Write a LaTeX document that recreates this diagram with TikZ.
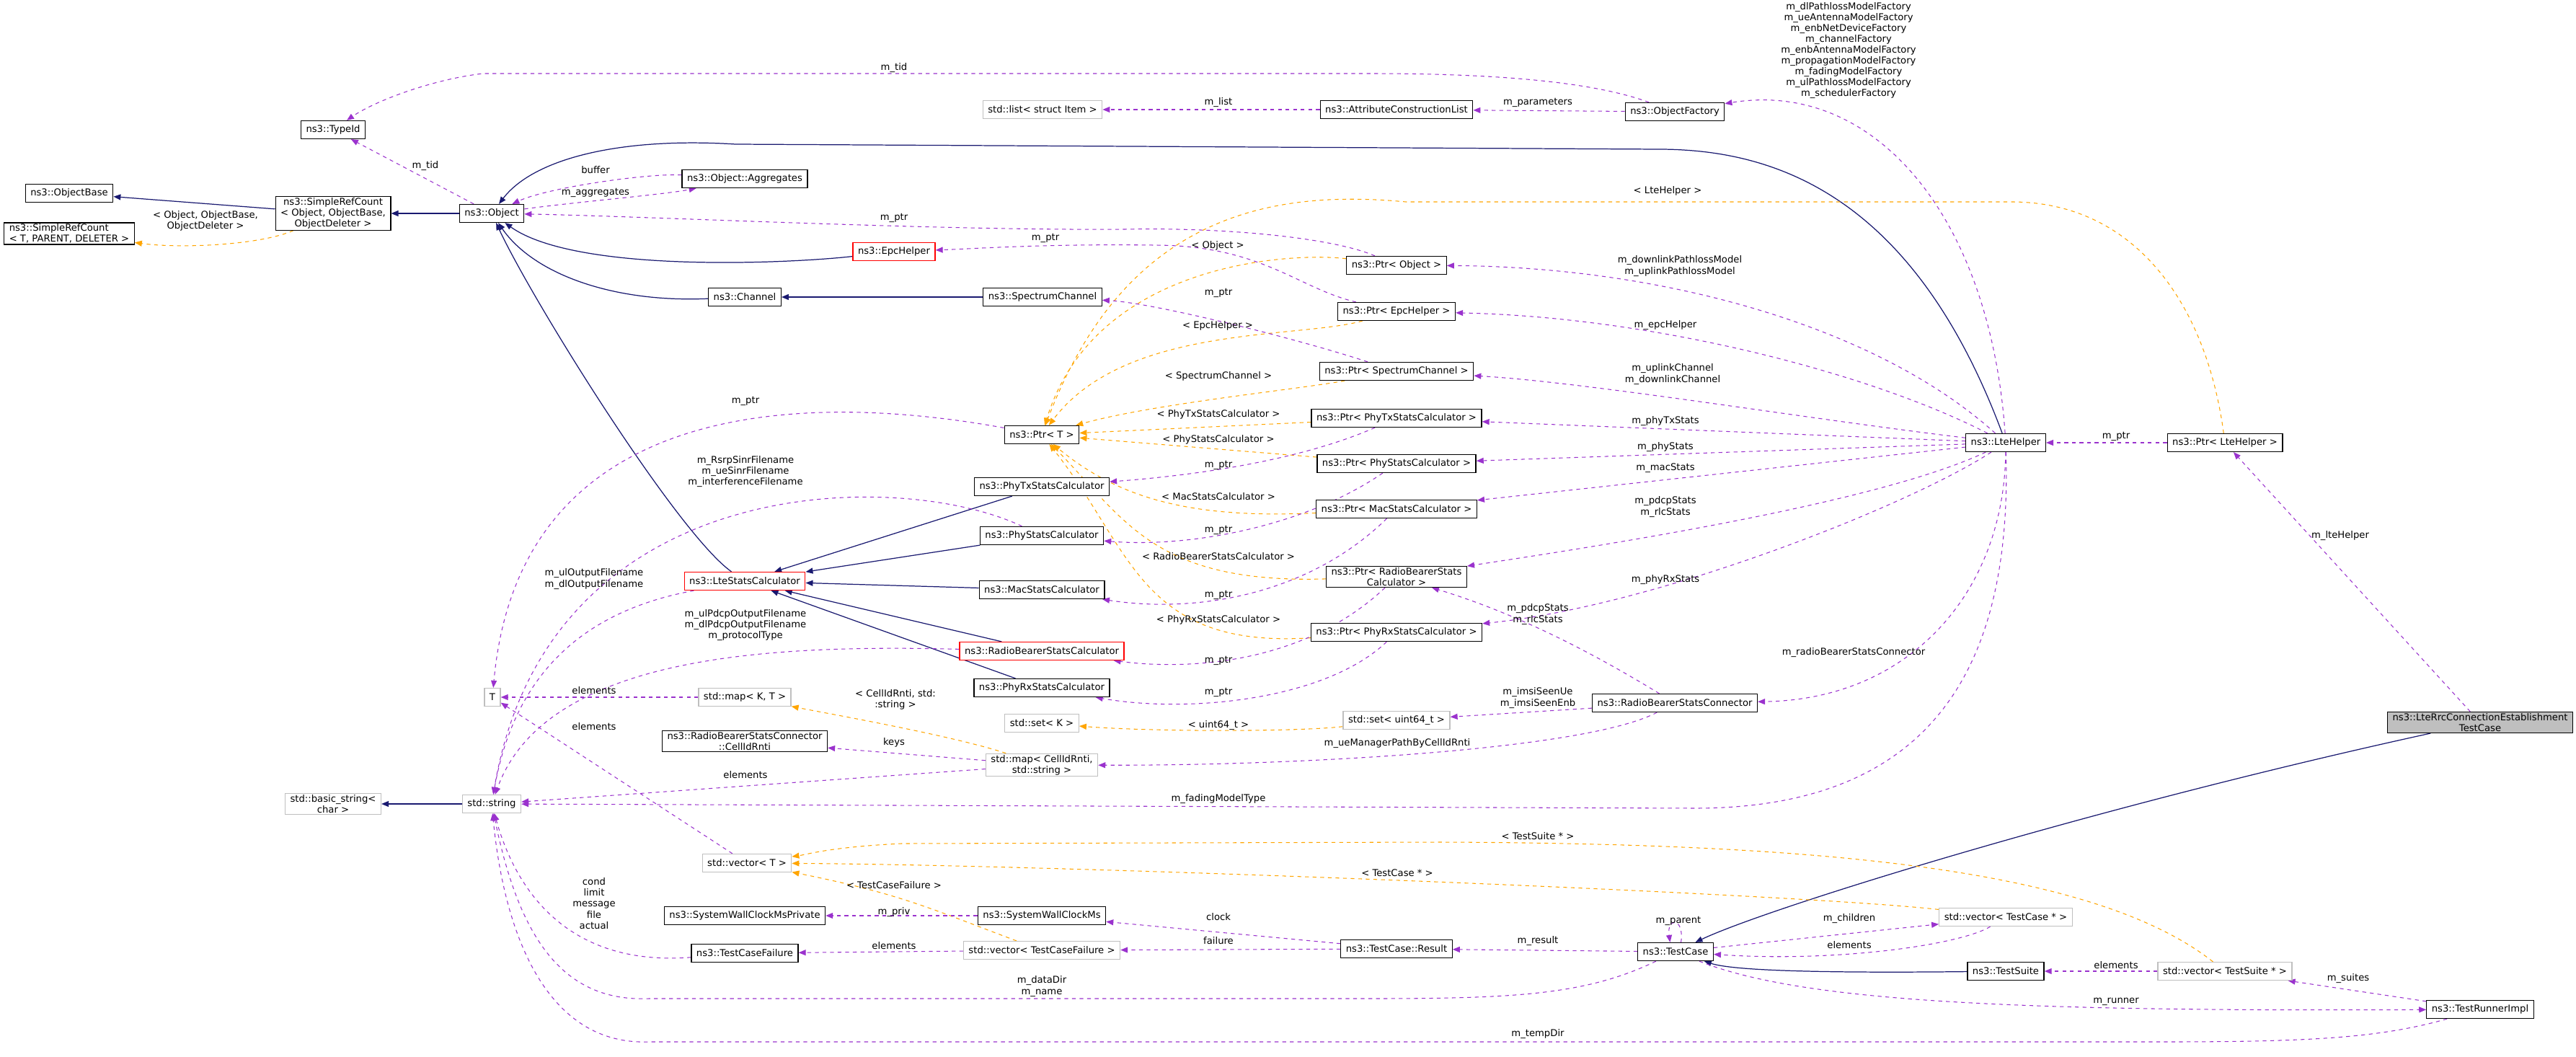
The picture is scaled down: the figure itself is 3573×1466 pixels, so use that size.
\documentclass[tikz,border=0pt]{standalone}
\usepackage{fontspec}
\setmainfont{DejaVu Sans}
\usetikzlibrary{arrows.meta}
\definecolor{inhcol}{HTML}{191970}
\definecolor{usecol}{HTML}{9A32CD}
\definecolor{tplcol}{HTML}{FFA500}
\definecolor{extcol}{HTML}{BFBFBF}
\pgfdeclarelayer{background}
\pgfsetlayers{background,main}
\tikzset{
  cls/.style={draw=black, fill=white, line width=0.7pt, font=\fontsize{7.5}{8.6}\selectfont,
    inner xsep=4pt, inner ysep=1pt, minimum height=0.5cm, align=center},
  extcls/.style={cls, draw=extcol},
  redcls/.style={cls, draw=red},
  curcls/.style={cls, fill=extcol},
  lbl/.style={font=\fontsize{7.5}{8.6}\selectfont, inner sep=0pt, align=center},
  tip/.style={-{Triangle[length=0.2cm,width=0.16cm]}},
  inh/.style={tip, draw=inhcol, line width=0.7pt},
  use/.style={tip, draw=usecol, dashed, line width=0.6pt},
  tpl/.style={tip, draw=tplcol, dashed, line width=0.6pt},
}
\begin{document}
\begin{tikzpicture}[x=0.02cm, y=-0.02cm]
\useasboundingbox (0,0) rectangle (3573,1466);
% classes
\node[cls] (typeid) at (462,180) {ns3::TypeId};
\node[cls] (objbase) at (96,268) {ns3::ObjectBase};
\node[cls, align=left] (srcT) at (96,324) {ns3::SimpleRefCount\\< T, PARENT, DELETER >};
\node[cls] (srcObj) at (462,296) {ns3::SimpleRefCount\\< Object, ObjectBase,\\ObjectDeleter >};
\node[cls] (object) at (682,296) {ns3::Object};
\node[cls] (aggr) at (1033,248) {ns3::Object::Aggregates};
\node[redcls] (epc) at (1240,349) {ns3::EpcHelper};
\node[cls] (channel) at (1033,412) {ns3::Channel};
\node[cls] (spch) at (1446,412) {ns3::SpectrumChannel};
\node[extcls] (list) at (1446,152) {std::list< struct Item >};
\node[cls] (acl) at (1937,152) {ns3::AttributeConstructionList};
\node[cls] (ofac) at (2323,155) {ns3::ObjectFactory};
\node[cls] (ptrobj) at (1937,368) {ns3::Ptr< Object >};
\node[cls] (ptrepc) at (1937,432) {ns3::Ptr< EpcHelper >};
\node[cls] (ptrspch) at (1937,515) {ns3::Ptr< SpectrumChannel >};
\node[cls] (ptrT) at (1445,603) {ns3::Ptr< T >};
\node[cls] (ptrphytx) at (1937,580) {ns3::Ptr< PhyTxStatsCalculator >};
\node[cls] (ptrphy) at (1937,643) {ns3::Ptr< PhyStatsCalculator >};
\node[cls] (ptrmac) at (1937,706) {ns3::Ptr< MacStatsCalculator >};
\node[cls] (ptrrb) at (1937,800) {ns3::Ptr< RadioBearerStats\\Calculator >};
\node[cls] (ptrphyrx) at (1937,877) {ns3::Ptr< PhyRxStatsCalculator >};
\node[cls] (phytx) at (1445,675) {ns3::PhyTxStatsCalculator};
\node[cls] (phy) at (1445,743) {ns3::PhyStatsCalculator};
\node[cls] (mac) at (1445,818) {ns3::MacStatsCalculator};
\node[redcls] (rb) at (1445,903) {ns3::RadioBearerStatsCalculator};
\node[cls] (phyrx) at (1445,954) {ns3::PhyRxStatsCalculator};
\node[redcls] (ltestats) at (1033,806) {ns3::LteStatsCalculator};
\node[extcls] (T) at (683,967) {T};
\node[extcls] (mapKT) at (1033,967) {std::map< K, T >};
\node[cls] (cellid) at (1033,1028) {ns3::RadioBearerStatsConnector\\::CellIdRnti};
\node[extcls] (setK) at (1445,1003) {std::set< K >};
\node[extcls] (setU) at (1937,999) {std::set< uint64\_t >};
\node[extcls] (mapCS) at (1445,1061) {std::map< CellIdRnti,\\std::string >};
\node[cls] (rbsc) at (2323,975) {ns3::RadioBearerStatsConnector};
\node[extcls] (basic) at (462,1115) {std::basic\_string<\\char >};
\node[extcls] (string) at (682,1115) {std::string};
\node[extcls] (vecT) at (1036,1197) {std::vector< T >};
\node[cls] (swcmp) at (1033,1270) {ns3::SystemWallClockMsPrivate};
\node[cls] (tcf) at (1033,1322) {ns3::TestCaseFailure};
\node[cls] (swcm) at (1445,1270) {ns3::SystemWallClockMs};
\node[extcls] (vecTCF) at (1445,1318) {std::vector< TestCaseFailure >};
\node[cls] (result) at (1937,1316) {ns3::TestCase::Result};
\node[cls] (testcase) at (2324,1320) {ns3::TestCase};
\node[extcls] (vecTC) at (2782,1272) {std::vector< TestCase * >};
\node[cls] (suite) at (2782,1347) {ns3::TestSuite};
\node[extcls] (vecTS) at (3086,1347) {std::vector< TestSuite * >};
\node[cls] (runner) at (3440,1400) {ns3::TestRunnerImpl};
\node[cls] (lte) at (2782,614) {ns3::LteHelper};
\node[cls] (ptrlte) at (3086,614) {ns3::Ptr< LteHelper >};
\node[curcls] (rrc) at (3440,1002) {ns3::LteRrcConnectionEstablishment\\TestCase};
\begin{pgfonlayer}{background}
% inheritance
\draw[inh] (srcObj) -- (objbase);
\draw[inh] (object) -- (srcObj);
\draw[inh] (lte) .. controls (2650,260) and (2450,207) .. (2300,207) -- (1020,200) .. controls (860,190) and (740,220) .. (object);
\draw[inh] (epc) .. controls (1100,365) and (800,380) .. (object);
\draw[inh] (channel) .. controls (850,420) and (740,380) .. (object);
\draw[inh] (ltestats) .. controls (940,740) and (740,420) .. (object);
\draw[inh] (spch) -- (channel);
\foreach \c in {phytx,phy,mac,rb,phyrx}
  \draw[inh] (\c) -- (ltestats);
\draw[inh] (rrc) .. controls (2900,1120) and (2450,1260) .. (testcase);
\draw[inh] (suite) .. controls (2500,1350) and (2400,1345) .. (testcase);
\draw[inh] (string) -- (basic);
% templates
\draw[tpl] (srcObj) .. controls (360,340) and (250,345) .. (srcT);
\draw[tpl] (ptrobj) .. controls (1800,350) and (1520,360) .. (ptrT);
\draw[tpl] (ptrepc) .. controls (1800,470) and (1560,450) .. (ptrT);
\draw[tpl] (ptrspch) .. controls (1800,540) and (1600,560) .. (ptrT);
\draw[tpl] (ptrphytx) -- (ptrT);
\draw[tpl] (ptrphy) -- (ptrT);
\draw[tpl] (ptrmac) .. controls (1650,720) and (1550,690) .. (ptrT);
\draw[tpl] (ptrrb) .. controls (1600,810) and (1560,720) .. (ptrT);
\draw[tpl] (ptrphyrx) .. controls (1580,900) and (1570,760) .. (ptrT);
\draw[tpl] (ptrlte) .. controls (3060,420) and (2960,280) .. (2790,280) -- (1950,280) .. controls (1760,262) and (1560,300) .. (ptrT);
\draw[tpl] (mapCS) .. controls (1320,1020) and (1150,990) .. (mapKT);
\draw[tpl] (setU) .. controls (1800,1015) and (1600,1015) .. (setK);
\draw[tpl] (vecTCF) .. controls (1290,1260) and (1250,1240) .. (vecT);
\draw[tpl] (vecTC) .. controls (2500,1240) and (1500,1200) .. (vecT);
\draw[tpl] (vecTS) .. controls (2900,1200) and (2500,1170) .. (2000,1168) -- (1250,1170) .. controls (1150,1175) and (1120,1185) .. (vecT);
% usage
\draw[use] (object) -- (typeid);
\draw[use] (ofac) .. controls (2200,110) and (2050,102) .. (1900,102) -- (670,102) .. controls (600,110) and (520,140) .. (typeid);
\draw[use] (aggr) .. controls (900,240) and (760,260) .. (object);
\draw[use] (object) .. controls (800,280) and (920,270) .. (aggr);
\draw[use] (ptrobj) .. controls (1850,330) and (1700,315) .. (1560,318) .. controls (1300,320) and (900,300) .. (object);
\draw[use] (ptrepc) .. controls (1800,400) and (1750,340) .. (1600,340) .. controls (1450,338) and (1350,345) .. (epc);
\draw[use] (ptrspch) .. controls (1800,470) and (1600,420) .. (spch);
\draw[use] (ptrphytx) .. controls (1800,640) and (1650,660) .. (phytx);
\draw[use] (ptrphy) .. controls (1810,730) and (1650,760) .. (phy);
\draw[use] (ptrmac) .. controls (1810,830) and (1650,850) .. (mac);
\draw[use] (ptrrb) .. controls (1810,920) and (1650,930) .. (rb);
\draw[use] (ptrphyrx) .. controls (1840,970) and (1650,990) .. (phyrx);
\draw[use] (ptrT) .. controls (1100,540) and (720,560) .. (T);
\draw[use] (acl) -- (list);
\draw[use] (ofac) -- (acl);
\draw[use] (lte) .. controls (2760,300) and (2600,110) .. (ofac);
\draw[use] (lte) .. controls (2600,450) and (2300,370) .. (ptrobj);
\draw[use] (lte) .. controls (2600,520) and (2300,440) .. (ptrepc);
\draw[use] (lte) .. controls (2500,580) and (2200,530) .. (ptrspch);
\draw[use] (lte) -- (ptrphytx);
\draw[use] (lte) -- (ptrphy);
\draw[use] (lte) -- (ptrmac);
\draw[use] (lte) .. controls (2600,700) and (2200,760) .. (ptrrb);
\draw[use] (lte) .. controls (2650,700) and (2300,840) .. (ptrphyrx);
\draw[use] (lte) .. controls (2780,820) and (2650,970) .. (rbsc);
\draw[use] (lte) .. controls (2790,900) and (2700,1121) .. (2350,1121) -- (string);
\draw[use] (ptrlte) -- (lte);
\draw[use] (rrc) -- (ptrlte);
\draw[use] (rbsc) .. controls (2200,900) and (2100,850) .. (ptrrb);
\draw[use] (rbsc) -- (setU);
\draw[use] (rbsc) .. controls (2200,1040) and (1800,1062) .. (mapCS);
\draw[use] (mapCS) -- (cellid);
\draw[use] (mapCS) -- (string);
\draw[use] (mapKT) -- (T);
\draw[use] (vecT) -- (T);
\draw[use] (phy) .. controls (1250,650) and (760,650) .. (string);
\draw[use] (ltestats) .. controls (850,840) and (720,900) .. (string);
\draw[use] (rb) .. controls (1100,895) and (760,900) .. (string);
\draw[use] (tcf) .. controls (800,1340) and (720,1250) .. (string);
\draw[use] (testcase) .. controls (2200,1380) and (2100,1385) .. (1900,1385) -- (900,1385) .. controls (780,1390) and (720,1300) .. (string);
\draw[use] (runner) .. controls (3300,1440) and (3200,1445) .. (3000,1445) -- (900,1445) .. controls (760,1450) and (700,1300) .. (string);
\draw[use] (swcm) -- (swcmp);
\draw[use] (vecTCF) -- (tcf);
\draw[use] (result) -- (swcm);
\draw[use] (result) -- (vecTCF);
\draw[use] (testcase) -- (result);
\draw[use] (testcase.60) .. controls +(5,-35) and +(-5,-35) .. (testcase.120);
\draw[use] (testcase) -- (vecTC);
\draw[use] (vecTC) .. controls (2720,1310) and (2550,1335) .. (testcase);
\draw[use] (vecTS) -- (suite);
\draw[use] (runner) -- (vecTS);
\draw[use] (testcase) .. controls (2500,1390) and (2800,1403) .. (runner);
\end{pgfonlayer}
% labels
\node[lbl] at (285,306) {< Object, ObjectBase,\\ObjectDeleter >};
\node[lbl] at (1689,341) {< Object >};
\node[lbl] at (1689,452) {< EpcHelper >};
\node[lbl] at (1690,522) {< SpectrumChannel >};
\node[lbl] at (1690,575) {< PhyTxStatsCalculator >};
\node[lbl] at (1690,610) {< PhyStatsCalculator >};
\node[lbl] at (1690,689) {< MacStatsCalculator >};
\node[lbl] at (1690,772) {< RadioBearerStatsCalculator >};
\node[lbl] at (1690,860) {< PhyRxStatsCalculator >};
\node[lbl] at (2313,265) {< LteHelper >};
\node[lbl] at (1242,970) {< CellIdRnti, std:\\:string >};
\node[lbl] at (1690,1006) {< uint64\_t >};
\node[lbl] at (1240,1228) {< TestCaseFailure >};
\node[lbl] at (1938,1211) {< TestCase * >};
\node[lbl] at (2133,1160) {< TestSuite * >};
\node[lbl] at (590,230) {m\_tid};
\node[lbl] at (1240,94) {m\_tid};
\node[lbl] at (826,236) {buffer};
\node[lbl] at (826,267) {m\_aggregates};
\node[lbl] at (1240,302) {m\_ptr};
\node[lbl] at (1450,330) {m\_ptr};
\node[lbl] at (1690,406) {m\_ptr};
\node[lbl] at (1690,645) {m\_ptr};
\node[lbl] at (1690,735) {m\_ptr};
\node[lbl] at (1690,825) {m\_ptr};
\node[lbl] at (1690,916) {m\_ptr};
\node[lbl] at (1690,960) {m\_ptr};
\node[lbl] at (1034,556) {m\_ptr};
\node[lbl] at (1690,142) {m\_list};
\node[lbl] at (2133,142) {m\_parameters};
\node[lbl] at (2564,70) {m\_dlPathlossModelFactory\\m\_ueAntennaModelFactory\\m\_enbNetDeviceFactory\\m\_channelFactory\\m\_enbAntennaModelFactory\\m\_propagationModelFactory\\m\_fadingModelFactory\\m\_ulPathlossModelFactory\\m\_schedulerFactory};
\node[lbl] at (2330,369) {m\_downlinkPathlossModel\\m\_uplinkPathlossModel};
\node[lbl] at (2310,451) {m\_epcHelper};
\node[lbl] at (2320,519) {m\_uplinkChannel\\m\_downlinkChannel};
\node[lbl] at (2310,584) {m\_phyTxStats};
\node[lbl] at (2310,620) {m\_phyStats};
\node[lbl] at (2310,649) {m\_macStats};
\node[lbl] at (2310,703) {m\_pdcpStats\\m\_rlcStats};
\node[lbl] at (2310,804) {m\_phyRxStats};
\node[lbl] at (2571,905) {m\_radioBearerStatsConnector};
\node[lbl] at (1690,1108) {m\_fadingModelType};
\node[lbl] at (2935,605) {m\_ptr};
\node[lbl] at (3246,743) {m\_lteHelper};
\node[lbl] at (2133,852) {m\_pdcpStats\\m\_rlcStats};
\node[lbl] at (2133,968) {m\_imsiSeenUe\\m\_imsiSeenEnb};
\node[lbl] at (1938,1031) {m\_ueManagerPathByCellIdRnti};
\node[lbl] at (1240,1030) {keys};
\node[lbl] at (1034,1075) {elements};
\node[lbl] at (824,958) {elements};
\node[lbl] at (824,1008) {elements};
\node[lbl] at (1034,654) {m\_RsrpSinrFilename\\m\_ueSinrFilename\\m\_interferenceFilename};
\node[lbl] at (824,803) {m\_ulOutputFilename\\m\_dlOutputFilename};
\node[lbl] at (1034,867) {m\_ulPdcpOutputFilename\\m\_dlPdcpOutputFilename\\m\_protocolType};
\node[lbl] at (824,1253) {cond\\limit\\message\\file\\actual};
\node[lbl] at (1445,1368) {m\_dataDir\\m\_name};
\node[lbl] at (2133,1434) {m\_tempDir};
\node[lbl] at (1240,1265) {m\_priv};
\node[lbl] at (1240,1312) {elements};
\node[lbl] at (1690,1272) {clock};
\node[lbl] at (1690,1305) {failure};
\node[lbl] at (2133,1305) {m\_result};
\node[lbl] at (2328,1277) {m\_parent};
\node[lbl] at (2565,1274) {m\_children};
\node[lbl] at (2565,1311) {elements};
\node[lbl] at (2935,1339) {elements};
\node[lbl] at (3257,1357) {m\_suites};
\node[lbl] at (2935,1389) {m\_runner};
\end{tikzpicture}
\end{document}
